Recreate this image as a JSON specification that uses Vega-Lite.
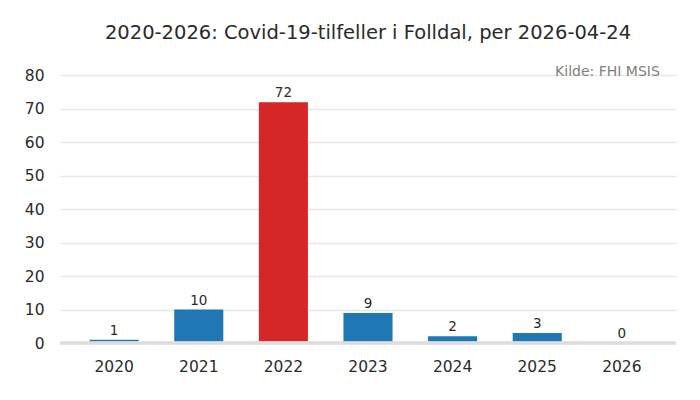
{
  "$schema": "https://vega.github.io/schema/vega-lite/v6.json",
  "autosize": "none",
  "width": 616,
  "height": 281,
  "padding": {"left": 60, "top": 62, "right": 24, "bottom": 57},
  "background": "white",
  "config": {
    "font": "DejaVu Sans",
    "view": {"stroke": null},
    "axisY": {"labelOverlap": false, "labelFontSize": 15.5, "labelColor": "#2a2a2a", "ticks": false, "domain": false, "gridColor": "#e8e8e8", "gridWidth": 1.5, "labelPadding": 16, "title": null},
    "axisX": {"labelAngle": 0, "labelFontSize": 15.5, "labelColor": "#2a2a2a", "ticks": false, "domain": false, "labelPadding": 16, "title": null}
  },
  "title": {
    "text": "2020-2026: Covid-19-tilfeller i Folldal, per 2026-04-24",
    "fontSize": 19.5,
    "fontWeight": "normal",
    "color": "#2a2a2a",
    "anchor": "middle",
    "offset": 19
  },
  "data": {
    "values": [
      {"year": "2020", "cases": 1, "max": false},
      {"year": "2021", "cases": 10, "max": false},
      {"year": "2022", "cases": 72, "max": true},
      {"year": "2023", "cases": 9, "max": false},
      {"year": "2024", "cases": 2, "max": false},
      {"year": "2025", "cases": 3, "max": false},
      {"year": "2026", "cases": 0, "max": false}
    ]
  },
  "layer": [
    {
      "mark": {"type": "bar"},
      "encoding": {
        "x": {
          "field": "year", "type": "ordinal",
          "scale": {"paddingInner": 0.42, "paddingOuter": 0.35},
          "axis": {"title": null}
        },
        "y": {
          "field": "cases", "type": "quantitative",
          "scale": {"domain": [0, 84], "nice": false},
          "axis": {"title": null, "values": [0, 10, 20, 30, 40, 50, 60, 70, 80]}
        },
        "color": {
          "field": "max", "type": "nominal",
          "scale": {"domain": [false, true], "range": ["#1f77b4", "#d62728"]},
          "legend": null
        }
      }
    },
    {
      "mark": {"type": "rule", "color": "#dddddd", "strokeWidth": 2.5},
      "encoding": {"y": {"datum": 0, "axis": {"title": null, "values": [0, 10, 20, 30, 40, 50, 60, 70, 80]}}}
    },
    {
      "mark": {"type": "text", "baseline": "bottom", "dy": -2, "fontSize": 13.5, "color": "#2a2a2a"},
      "encoding": {
        "x": {"field": "year", "type": "ordinal", "axis": {"title": null}},
        "y": {"field": "cases", "type": "quantitative", "axis": {"title": null, "values": [0, 10, 20, 30, 40, 50, 60, 70, 80]}},
        "text": {"field": "cases", "type": "quantitative"}
      }
    },
    {
      "data": {"values": [{"year": "2026", "pos": 80, "label": "Kilde: FHI MSIS"}]},
      "mark": {"type": "text", "align": "right", "baseline": "middle", "dx": 38, "dy": -3, "fontSize": 14, "color": "#808080"},
      "encoding": {
        "x": {"field": "year", "type": "ordinal", "axis": {"title": null}},
        "y": {"field": "pos", "type": "quantitative", "axis": {"title": null, "values": [0, 10, 20, 30, 40, 50, 60, 70, 80]}},
        "text": {"field": "label"}
      }
    }
  ]
}
